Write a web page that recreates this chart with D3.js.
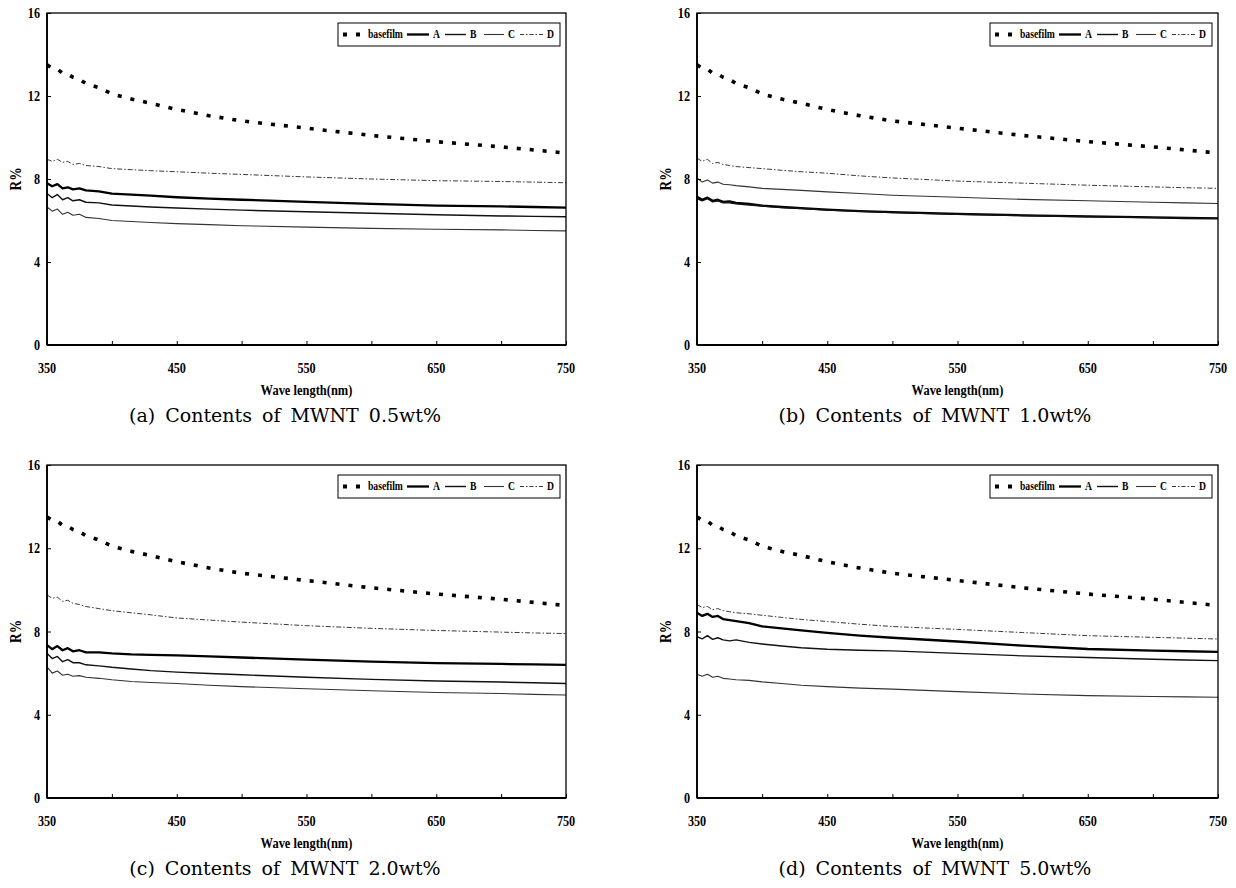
<!DOCTYPE html>
<html>
<head>
<meta charset="utf-8">
<script src="https://cdn.jsdelivr.net/npm/d3@7"></script>
<style>
  html, body { margin: 0; padding: 0; background: #fff; }
  svg { display: block; }
</style>
</head>
<body>
<svg id="chart" width="1236" height="888"></svg>
<script>
// reflectance curves, 4 panels (MWNT content)
const WAVE = [350, 354, 358, 362, 366, 370, 375, 380, 390, 400, 415, 430, 450, 475, 500, 550, 600, 650, 700, 725, 750];

const BASEFILM = [13.5, 13.35, 13.3, 13.1, 13.05, 12.9, 12.8, 12.6, 12.4, 12.1, 11.85, 11.65, 11.35, 11.05, 10.8, 10.45, 10.1, 9.8, 9.55, 9.4, 9.25];

const A_05 = [7.8, 7.65, 7.75, 7.55, 7.6, 7.5, 7.55, 7.45, 7.4, 7.3, 7.25, 7.2, 7.12, 7.05, 7.0, 6.9, 6.8, 6.72, 6.68, 6.65, 6.62];
const B_05 = [7.3, 7.1, 7.25, 7.0, 7.1, 6.95, 7.0, 6.88, 6.85, 6.75, 6.7, 6.65, 6.6, 6.55, 6.5, 6.42, 6.35, 6.28, 6.22, 6.2, 6.18];
const C_05 = [6.65, 6.45, 6.55, 6.3, 6.4, 6.25, 6.3, 6.15, 6.1, 6.0, 5.95, 5.9, 5.85, 5.8, 5.75, 5.68, 5.62, 5.58, 5.55, 5.52, 5.5];
const D_05 = [8.95, 8.85, 8.95, 8.8, 8.85, 8.7, 8.75, 8.65, 8.6, 8.5, 8.45, 8.4, 8.35, 8.28, 8.22, 8.1, 8.0, 7.92, 7.88, 7.85, 7.82];

const A_10 = [7.15, 7.0, 7.1, 6.95, 7.0, 6.9, 6.92, 6.85, 6.8, 6.72, 6.65, 6.6, 6.52, 6.45, 6.4, 6.32, 6.25, 6.2, 6.15, 6.12, 6.1];
const B_10 = [7.05, 6.95, 7.05, 6.9, 6.95, 6.85, 6.85, 6.8, 6.75, 6.7, 6.62, 6.58, 6.5, 6.44, 6.38, 6.3, 6.24, 6.18, 6.14, 6.12, 6.1];
const C_10 = [8.05, 7.85, 7.95, 7.8, 7.85, 7.75, 7.72, 7.68, 7.62, 7.55, 7.5, 7.45, 7.38, 7.3, 7.22, 7.12, 7.02, 6.95, 6.88, 6.85, 6.82];
const D_10 = [9.0, 8.85, 8.95, 8.75, 8.8, 8.7, 8.65, 8.6, 8.55, 8.5, 8.42, 8.35, 8.28, 8.15, 8.05, 7.9, 7.8, 7.7, 7.62, 7.58, 7.55];

const A_20 = [7.35, 7.15, 7.3, 7.1, 7.2, 7.05, 7.1, 7.0, 7.0, 6.95, 6.9, 6.88, 6.85, 6.8, 6.75, 6.65, 6.55, 6.48, 6.44, 6.42, 6.4];
const B_20 = [6.95, 6.7, 6.8, 6.55, 6.65, 6.5, 6.5, 6.4, 6.35, 6.28, 6.2, 6.12, 6.05, 5.98, 5.92, 5.8, 5.7, 5.62, 5.57, 5.54, 5.5];
const C_20 = [6.3, 6.0, 6.1, 5.9, 5.95, 5.85, 5.88, 5.8, 5.75, 5.68, 5.6, 5.55, 5.5, 5.42, 5.35, 5.25, 5.15, 5.07, 5.02, 4.98, 4.95];
const D_20 = [9.75, 9.6, 9.65, 9.45, 9.5, 9.35, 9.3, 9.2, 9.1, 9.0, 8.9, 8.8, 8.65, 8.55, 8.45, 8.28, 8.15, 8.05, 7.97, 7.93, 7.9];

const A_50 = [8.9, 8.75, 8.85, 8.7, 8.75, 8.6, 8.55, 8.5, 8.4, 8.25, 8.15, 8.05, 7.93, 7.8, 7.7, 7.52, 7.32, 7.16, 7.08, 7.05, 7.02];
const B_50 = [7.75, 7.65, 7.8, 7.62, 7.7, 7.6, 7.55, 7.6, 7.48, 7.4, 7.3, 7.22, 7.15, 7.1, 7.07, 6.95, 6.83, 6.75, 6.67, 6.63, 6.6];
const C_50 = [5.95, 5.85, 5.95, 5.8, 5.85, 5.75, 5.72, 5.68, 5.65, 5.58, 5.5, 5.42, 5.35, 5.28, 5.23, 5.11, 5.0, 4.92, 4.88, 4.86, 4.84];
const D_50 = [9.3, 9.15, 9.2, 9.05, 9.1, 9.0, 8.95, 8.9, 8.85, 8.78, 8.68, 8.58, 8.48, 8.35, 8.24, 8.1, 7.95, 7.8, 7.72, 7.68, 7.64];

const X_TICKS = [350, 450, 550, 650, 750];
const Y_TICKS = [0, 4, 8, 12, 16];
const SERIES_NAMES = ["basefilm", "A", "B", "C", "D"];
const CAPTIONS = ["(a)  Contents  of  MWNT  0.5wt%", "(b)  Contents  of  MWNT  1.0wt%", "(c)  Contents  of  MWNT  2.0wt%", "(d)  Contents  of  MWNT  5.0wt%"];

const PANELS = [
  { box: [47, 13, 566, 345], series: [BASEFILM, A_05, B_05, C_05, D_05] },
  { box: [697, 13, 1218, 345], series: [BASEFILM, A_10, B_10, C_10, D_10] },
  { box: [47, 465, 566, 798], series: [BASEFILM, A_20, B_20, C_20, D_20] },
  { box: [697, 465, 1218, 798], series: [BASEFILM, A_50, B_50, C_50, D_50] },
];

const STYLES = {
  basefilm: { w: 3.6, dash: "4,9", color: "#000" },
  A: { w: 2.3, dash: null, color: "#000" },
  B: { w: 1.4, dash: null, color: "#111" },
  C: { w: 1.1, dash: null, color: "#333" },
  D: { w: 0.9, dash: "5,2,1.5,2", color: "#222" },
};

const FONT = "Liberation Serif";
const svg = d3.select("#chart");

function squeezed(g, x, y, str, size, anchor, sx = 0.84, rot = 0) {
  return g.append("text")
    .attr("transform", `translate(${x},${y}) rotate(${rot}) scale(${sx},1)`)
    .attr("text-anchor", anchor)
    .attr("font-family", FONT)
    .attr("font-weight", "bold")
    .attr("font-size", size)
    .attr("fill", "#000")
    .text(str);
}

function drawPanel(p, idx) {
  const [x0, y0, x1, y1] = p.box;
  const x = d3.scaleLinear().domain([350, 750]).range([x0, x1]);
  const y = d3.scaleLinear().domain([0, 16]).range([y1, y0]);
  const g = svg.append("g");

  const line = d3.line().x((d) => x(d[0])).y((d) => y(d[1]));
  p.series.forEach((vals, i) => {
    const st = STYLES[SERIES_NAMES[i]];
    g.append("path")
      .attr("d", line(WAVE.map((w, k) => [w, vals[k]])))
      .attr("fill", "none")
      .attr("stroke", st.color)
      .attr("stroke-width", st.w)
      .attr("stroke-dasharray", st.dash)
      .attr("stroke-linejoin", "round");
  });

  // frame
  g.append("rect")
    .attr("x", x0).attr("y", y0)
    .attr("width", x1 - x0).attr("height", y1 - y0)
    .attr("fill", "none").attr("stroke", "#000").attr("stroke-width", 1.3);
  g.append("line").attr("x1", x0).attr("x2", x1).attr("y1", y1).attr("y2", y1)
    .attr("stroke", "#000").attr("stroke-width", 2);
  g.append("line").attr("x1", x0).attr("x2", x0).attr("y1", y0).attr("y2", y1)
    .attr("stroke", "#000").attr("stroke-width", 1.8);

  // inward ticks
  const xAxis = d3.axisTop(x).tickValues(d3.range(350, 751, 50)).tickSize(4).tickFormat("");
  g.append("g").attr("transform", `translate(0,${y1})`).call(xAxis)
    .call((a) => a.select(".domain").remove())
    .call((a) => a.selectAll("line").attr("stroke", "#000").attr("stroke-width", 1));
  const yAxis = d3.axisRight(y).tickValues(Y_TICKS).tickSize(4).tickFormat("");
  g.append("g").attr("transform", `translate(${x0},0)`).call(yAxis)
    .call((a) => a.select(".domain").remove())
    .call((a) => a.selectAll("line").attr("stroke", "#000").attr("stroke-width", 1));

  X_TICKS.forEach((v) => squeezed(g, x(v), y1 + 28, v, 14.5, "middle"));
  Y_TICKS.forEach((v) => squeezed(g, x0 - 7, y(v) + 5, v, 14.5, "end"));

  squeezed(g, (x0 + x1) / 2, y1 + 50, "Wave length(nm)", 14.5, "middle", 0.86);
  squeezed(g, x0 - 26, (y0 + y1) / 2, "R%", 16, "middle", 0.84, -90);

  drawLegend(g, x1 - 228, y0 + 10);

  g.append("text")
    .attr("x", x0 + 238)
    .attr("y", y1 + 77)
    .attr("text-anchor", "middle")
    .attr("font-family", "DejaVu Serif")
    .attr("font-size", 19)
    .attr("word-spacing", 4)
    .attr("fill", "#000")
    .text(CAPTIONS[idx]);
}

function drawLegend(g, lx, ly) {
  const h = 23, w = 222;
  g.append("rect").attr("x", lx).attr("y", ly).attr("width", w).attr("height", h)
    .attr("fill", "#fff").attr("stroke", "#000").attr("stroke-width", 1);
  const cy = ly + h / 2;
  const items = [
    { name: "basefilm", from: 5, to: 24, text: 30 },
    { name: "A", from: 69, to: 91, text: 95 },
    { name: "B", from: 107, to: 128, text: 132 },
    { name: "C", from: 146, to: 166, text: 170 },
    { name: "D", from: 182, to: 205, text: 209 },
  ];
  items.forEach((it) => {
    const st = STYLES[it.name];
    g.append("line")
      .attr("x1", lx + it.from).attr("x2", lx + it.to)
      .attr("y1", cy).attr("y2", cy)
      .attr("stroke", st.color)
      .attr("stroke-width", it.name === "basefilm" ? 4 : st.w)
      .attr("stroke-dasharray", it.name === "basefilm" ? "4,9" : it.name === "D" ? "4,2,1.5,2" : null);
    squeezed(g, lx + it.text, cy + 3.5, it.name, 11.5, "start", 0.84);
  });
}

PANELS.forEach(drawPanel);
</script>
</body>
</html>
